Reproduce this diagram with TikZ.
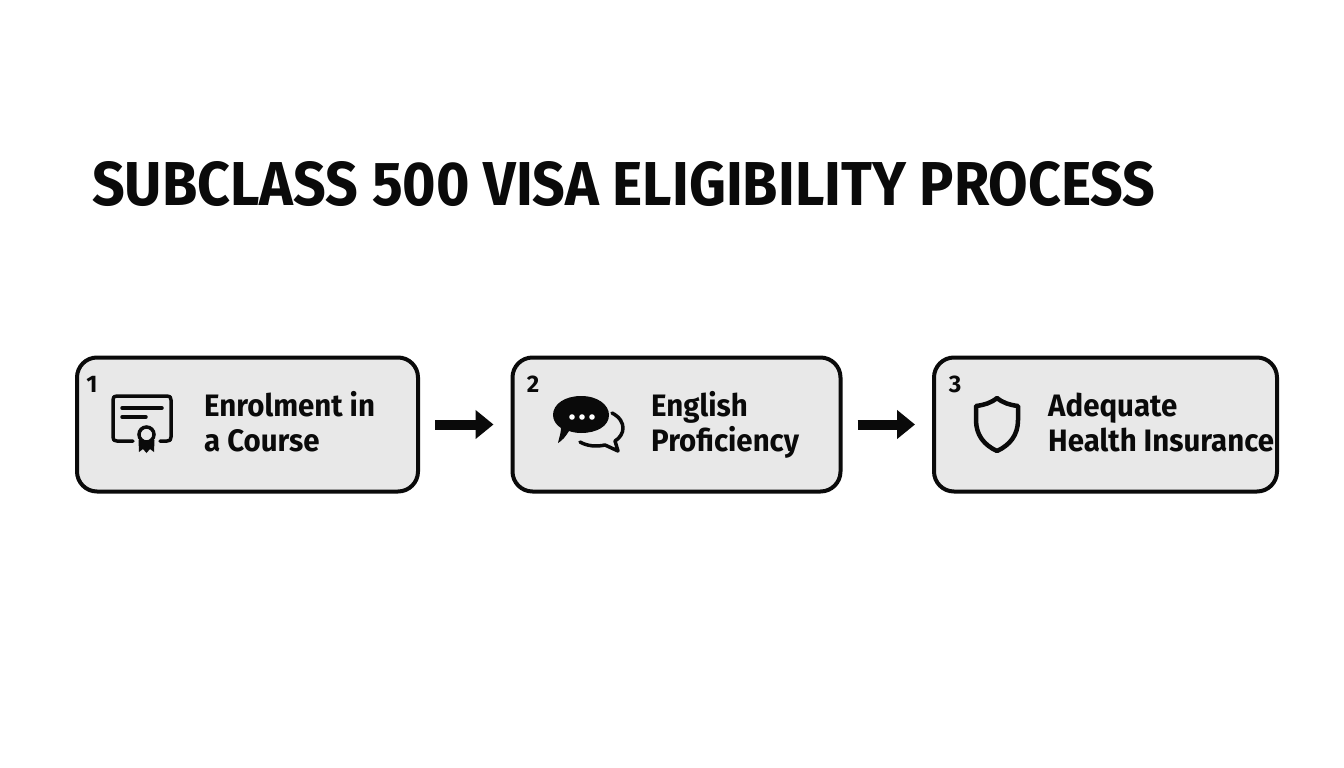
\documentclass[tikz,border=0pt]{standalone}
\usepackage{fontspec}
\setmainfont{Fira Sans}
\newfontfamily\titlefont[FakeStretch=0.924]{Fira Sans}
\newfontfamily\labelfont[FakeStretch=0.95]{Fira Sans}
\usetikzlibrary{arrows.meta}
\definecolor{boxfill}{HTML}{E8E8E8}
\definecolor{ink}{HTML}{0A0A0A}
\tikzset{
  x=1pt,y=-1pt,
  stepbox/.style={draw=ink,fill=boxfill,line width=4pt,rounded corners=20pt,minimum height=134pt,inner sep=0pt,anchor=north west},
  label/.style={anchor=base west,inner sep=0pt,text=ink,font=\labelfont\fontsize{31}{31}\selectfont\bfseries},
  numlabel/.style={anchor=base,inner sep=0pt,text=ink,font=\fontsize{24}{24}\selectfont\bfseries},
  flow/.style={draw=ink,line width=10pt,-{Triangle[length=18pt,width=28pt]},shorten <=15pt,shorten >=17pt,yshift=-1.5pt},
  icon/.style={draw=ink,line cap=round,line join=round},
}
\begin{document}
\begin{tikzpicture}
\useasboundingbox (0,0) rectangle (1344,768);
\fill[white] (0,0) rectangle (1344,768);
\node[anchor=base west,inner sep=0pt,text=ink,font=\titlefont\fontsize{62}{62}\selectfont\bfseries] (title) at (92,205) {SUBCLASS 500 VISA ELIGIBILITY PROCESS};
\node[stepbox,minimum width=341pt] (b1) at (75,355.5) {};
\node[stepbox,minimum width=328pt] (b2) at (510.5,355.5) {};
\node[stepbox,minimum width=343pt] (b3) at (932,355.5) {};
\draw[flow] (b1.east) -- (b2.west);
\draw[flow] (b2.east) -- (b3.west);
\node[numlabel] (n1) at (92,392) {1};
\node[numlabel] (n2) at (533,392) {2};
\node[numlabel] (n3) at (955,392) {3};
\node[label] (t1a) at (204,416) {Enrolment in};
\node[label] (t1b) at (204,451) {a Course};
\node[label] (t2a) at (651,416) {English};
\node[label] (t2b) at (651,451) {Proficiency};
\node[label] (t3a) at (1048,416) {Adequate};
\node[label] (t3b) at (1048,451) {Health Insurance};
% certificate
\draw[icon,line width=3.5pt] (133,441) -- (117,441) .. controls (114,441) and (113,440) .. (113,437) -- (113,400) .. controls (113,397) and (114,396) .. (117,396) -- (167,396) .. controls (170,396) and (171,397) .. (171,400) -- (171,437) .. controls (171,440) and (170,441) .. (167,441) -- (160,441);
\draw[icon,line width=3.5pt] (122,408) -- (162,408);
\draw[icon,line width=3.5pt] (122,417) -- (146,417);
\fill[ink] (138.5,440) -- (139,452) -- (143,449) -- (146.5,453) -- (150,449) -- (154,452) -- (154.5,440) -- cycle;
\draw[ink,fill=boxfill,line width=3.5pt] (146.5,434.5) circle (7.5pt);
% speech bubbles
\draw[icon,line width=3.5pt] (612,413) .. controls (620,417) and (623,423) .. (623,428) .. controls (623,433) and (620,438) .. (615,441) -- (618,451) -- (605,445) .. controls (596,447) and (587,446) .. (580,442);
\fill[ink] (581,396) .. controls (598,396) and (609,405) .. (609,415) .. controls (609,426) and (597,433) .. (581,433) .. controls (576,433) and (572,432) .. (569,431) .. controls (566,436) and (562,441) .. (558,443) .. controls (559,438) and (561,433) .. (561,428) .. controls (556,425) and (553,420) .. (553,415) .. controls (553,404) and (565,396) .. (581,396) -- cycle;
\fill[white] (572,417) circle (2.8pt) (582,417) circle (2.8pt) (592,417) circle (2.8pt);
% shield
\draw[icon,line width=4.5pt] (997,398) .. controls (1003,403) and (1010,405) .. (1018,406) -- (1018,420) .. controls (1018,435) and (1010,445) .. (997,451) .. controls (984,445) and (976,435) .. (976,420) -- (976,406) .. controls (984,405) and (991,403) .. (997,398) -- cycle;
\end{tikzpicture}
\end{document}
